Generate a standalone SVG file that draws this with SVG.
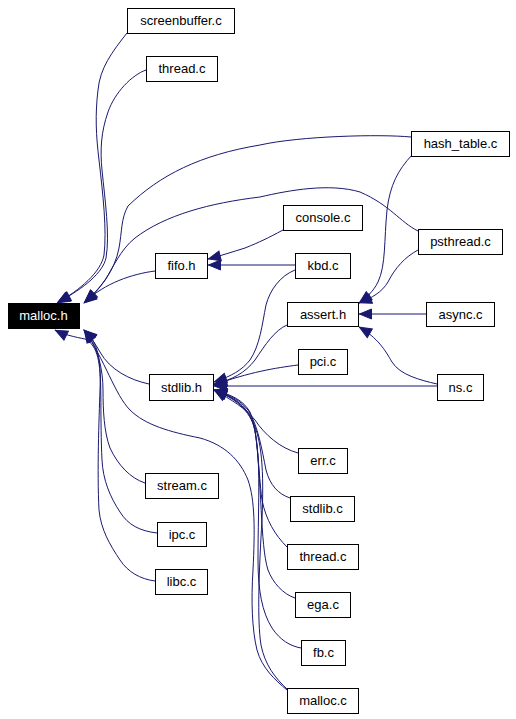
<svg xmlns="http://www.w3.org/2000/svg" width="516" height="719" viewBox="0 0 516 719">
<style>
.n rect{fill:#fff;stroke:#000;stroke-width:1}
.n text{font-family:"Liberation Sans",Arial,sans-serif;font-size:13px;text-anchor:middle;fill:#000}
#malloc_h rect{fill:#000}
#malloc_h text{fill:#fff}
.e path{fill:none;stroke:#191970;stroke-width:1;marker-end:url(#ah)}
</style>
<defs>
<marker id="ah" markerUnits="userSpaceOnUse" markerWidth="14" markerHeight="11" refX="12.5" refY="5" orient="auto" overflow="visible"><path d="M0,0 L12,5 L0,10 z" fill="#191970" stroke="#191970" stroke-width="1"/></marker>
</defs>
<rect width="516" height="719" fill="#fff"/>
<g class="e" id="edges">
<path d="M127,33 C112,52 100,68 98,90 C95,115 96,135 99,160 C103,195 107,230 104,255 C101,272 80,290 57,303"/>
<path d="M146,70 C132,75 115,92 108,112 C101,132 100,150 102,170 C105,200 110,235 106,258 C103,272 85,288 58,302"/>
<path d="M411,137 C380,134 300,136 260,145 C200,155 160,175 128,206 C121,218 122,232 119,248 C115,270 100,290 84,303"/>
<path d="M418,231 C400,222 390,205 360,192 C330,183 290,190 260,197 C210,203 165,215 135,238 C120,250 113,268 105,280 C100,287 93,295 84,303"/>
<path d="M155,271 C132,274 105,283 85,302"/>
<path d="M149,384 C130,380 110,370 100,352 C95,343 90,336 84,330"/>
<path d="M145,483 C130,478 118,465 110,448 C104,432 103,410 103,390 C103,370 98,345 84,330"/>
<path d="M157,533 C140,531 128,525 120,512 C110,497 103,480 102,460 C100,420 102,380 99,360 C97,345 92,337 84,330"/>
<path d="M155,581 C140,579 128,572 120,560 C110,545 101,530 99,510 C97,470 99,420 100,390 C101,365 98,345 85,339 C75,337 65,335 55,330"/>
<path d="M287,690 C275,680 262,668 257,650 C252,630 251,600 253,570 C255,530 255,500 248,480 C240,460 225,445 200,438 C170,432 145,425 130,410 C115,395 105,360 84,330"/>
<path d="M283,230 C268,238 260,242 245,248 C232,252 220,256 208,259"/>
<path d="M295,265 L208,265"/>
<path d="M295,270 C280,276 270,290 266,305 C262,325 260,345 250,360 C242,370 232,376 214,382"/>
<path d="M287,325 C275,330 265,345 255,360 C245,373 232,380 214,384"/>
<path d="M298,365 C275,368 250,372 214,385"/>
<path d="M437,386 L214,386"/>
<path d="M298,453 C280,448 265,435 255,420 C245,408 232,400 214,390"/>
<path d="M290,498 C278,494 270,485 266,470 C262,450 258,425 248,410 C240,400 230,395 214,390"/>
<path d="M287,547 C275,535 266,520 262,500 C258,470 258,430 250,412 C243,400 232,395 214,390"/>
<path d="M295,598 C283,594 273,583 268,570 C260,545 262,480 255,430 C250,410 235,398 214,390"/>
<path d="M301,648 C290,646 280,640 272,628 C262,612 258,590 258,560 C258,500 262,450 252,420 C245,405 235,398 214,390"/>
<path d="M288,690 C275,678 265,665 261,645 C257,620 259,570 262,520 C264,470 262,440 252,420 C245,405 235,398 214,390"/>
<path d="M412,155 C398,170 390,185 387,210 C384,240 386,265 378,282 C373,292 366,298 359,303"/>
<path d="M418,250 C405,257 395,268 388,282 C382,292 372,298 359,303"/>
<path d="M426,314 L359,314"/>
<path d="M437,384 C420,380 400,375 392,362 C385,350 378,338 359,327"/>
</g>
<g class="n" id="malloc_h"><rect x="8.5" y="303.5" width="71" height="25"/><text x="43.5" y="320">malloc.h</text></g>
<g class="n" id="screenbuffer_c"><rect x="127.5" y="8.5" width="107" height="25"/><text x="181" y="25">screenbuffer.c</text></g>
<g class="n" id="thread_c_top"><rect x="146.5" y="56.5" width="71" height="25"/><text x="182" y="73">thread.c</text></g>
<g class="n" id="hash_table_c"><rect x="411.5" y="131.5" width="98" height="25"/><text x="460.5" y="148">hash_table.c</text></g>
<g class="n" id="console_c"><rect x="283.5" y="205.5" width="79" height="25"/><text x="323" y="222">console.c</text></g>
<g class="n" id="psthread_c"><rect x="418.5" y="229.5" width="84" height="25"/><text x="460.5" y="246">psthread.c</text></g>
<g class="n" id="fifo_h"><rect x="155.5" y="253.5" width="52" height="25"/><text x="181.5" y="270">fifo.h</text></g>
<g class="n" id="kbd_c"><rect x="295.5" y="253.5" width="55" height="25"/><text x="323" y="270">kbd.c</text></g>
<g class="n" id="assert_h"><rect x="287.5" y="302.5" width="71" height="24"/><text x="323" y="319">assert.h</text></g>
<g class="n" id="async_c"><rect x="426.5" y="302.5" width="68" height="24"/><text x="460.5" y="319">async.c</text></g>
<g class="n" id="pci_c"><rect x="298.5" y="349.5" width="49" height="25"/><text x="323" y="366">pci.c</text></g>
<g class="n" id="stdlib_h"><rect x="149.5" y="374.5" width="64" height="26"/><text x="181.5" y="392">stdlib.h</text></g>
<g class="n" id="ns_c"><rect x="437.5" y="374.5" width="46" height="26"/><text x="460.5" y="392">ns.c</text></g>
<g class="n" id="err_c"><rect x="298.5" y="448.5" width="49" height="25"/><text x="323" y="465">err.c</text></g>
<g class="n" id="stream_c"><rect x="145.5" y="473.5" width="73" height="25"/><text x="182" y="490">stream.c</text></g>
<g class="n" id="stdlib_c"><rect x="290.5" y="496.5" width="64" height="25"/><text x="322.5" y="513">stdlib.c</text></g>
<g class="n" id="ipc_c"><rect x="157.5" y="522.5" width="49" height="24"/><text x="182" y="539">ipc.c</text></g>
<g class="n" id="thread_c_bottom"><rect x="287.5" y="544.5" width="71" height="25"/><text x="323" y="561">thread.c</text></g>
<g class="n" id="libc_c"><rect x="155.5" y="569.5" width="52" height="25"/><text x="181.5" y="586">libc.c</text></g>
<g class="n" id="ega_c"><rect x="295.5" y="592.5" width="55" height="25"/><text x="323" y="609">ega.c</text></g>
<g class="n" id="fb_c"><rect x="301.5" y="640.5" width="44" height="25"/><text x="323.5" y="657">fb.c</text></g>
<g class="n" id="malloc_c"><rect x="287.5" y="688.5" width="71" height="25"/><text x="323" y="705">malloc.c</text></g>
</svg>
